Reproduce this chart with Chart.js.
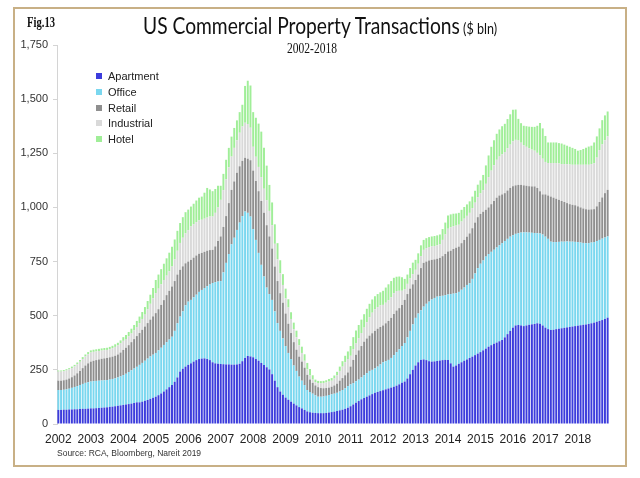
<!DOCTYPE html>
<html>
<head>
<meta charset="utf-8">
<script src="https://cdn.jsdelivr.net/npm/chart.js@4.4.1/dist/chart.umd.min.js"></script>
<style>
html,body{margin:0;padding:0;background:#fff;width:640px;height:478px;overflow:hidden;}
#wrap{position:relative;width:640px;height:478px;}
#frame{position:absolute;left:13px;top:7px;width:610px;height:456px;border:2px solid #c8b086;}
canvas{position:absolute;left:0;top:0;}
.txt{position:absolute;white-space:nowrap;line-height:1;transform-origin:left top;}
#fig{left:27px;top:16px;font-family:"Liberation Serif",serif;font-size:14px;font-weight:bold;color:#111;}
#title{left:143px;top:14px;font-family:Lato,"Open Sans",sans-serif;color:#111;}
#title .t1{font-size:23px;}
#title .t2{font-size:15px;}
#sub{top:42px;font-family:"Liberation Serif",serif;font-size:14px;color:#111;}
#source{left:57px;top:449px;font-family:"Liberation Sans",Arial,sans-serif;font-size:8.5px;color:#333;}
#legend{position:absolute;left:96px;top:69px;font-family:"Liberation Sans",Arial,sans-serif;font-size:11px;color:#222;}
#legend .row{height:15.75px;line-height:15.75px;white-space:nowrap;}
#legend .sw{display:inline-block;width:6px;height:6px;margin-right:6px;vertical-align:middle;position:relative;top:-1px;}
</style>
</head>
<body>
<div id="wrap">
  <div id="frame"></div>
  <canvas id="c" width="640" height="478"></canvas>
  <div id="fig" class="txt">Fig.13</div>
  <div id="title" class="txt"><span class="t1">US Commercial Property Transactions</span><span class="t2"> ($ bln)</span></div>
  <div id="sub" class="txt">2002-2018</div>
  <div id="source" class="txt">Source: RCA, Bloomberg, Nareit 2019</div>
  <div id="legend"></div>
</div>
<script>
const years = ['2002','2003','2004','2005','2006','2007','2008','2009','2010','2011','2012','2013','2014','2015','2016','2017','2018'];

const apartment = [
  65,65,66,66,67,67,68,68,69,70,70,71,
  72,72,73,74,75,76,77,79,80,82,84,86,
  88,90,92,94,97,100,100,103,107,111,116,121,
  126,133,141,150,160,170,180,195,215,242,255,265,
  273,280,288,295,300,302,303,300,295,285,280,278,
  277,276,275,275,274,274,275,278,290,305,314,312,
  308,300,292,282,272,262,252,230,200,170,150,135,
  122,112,103,94,86,78,72,65,58,54,52,51,
  50,50,50,51,53,55,57,60,63,66,70,75,
  82,90,98,106,114,120,126,132,138,144,148,152,
  156,160,164,168,172,177,183,190,196,210,230,250,
  270,285,296,298,295,290,288,289,291,293,295,296,
  296,280,265,270,278,285,292,298,305,311,318,325,
  332,340,348,357,364,370,376,382,388,400,415,430,
  445,455,457,455,452,455,458,460,462,465,463,455,
  445,438,434,435,438,440,442,444,446,448,450,452,
  454,456,458,460,462,465,468,472,476,480,485,491
];

const office = [
  92,92,92,94,96,100,103,107,111,115,120,122,
  124,126,126,126,126,126,126,126,128,129,131,134,
  138,142,148,154,159,164,173,179,185,191,196,199,
  202,207,211,215,218,220,223,235,250,254,265,283,
  292,293,297,302,310,317,325,336,349,366,375,380,
  383,424,469,510,556,586,621,652,670,676,661,646,
  592,550,498,453,409,368,348,343,320,296,280,260,
  238,216,197,176,159,141,128,115,99,94,88,81,
  76,76,77,79,81,82,83,84,87,91,95,100,
  101,99,99,99,101,105,109,113,112,113,117,123,
  129,130,132,137,146,155,162,170,178,190,200,210,
  220,225,229,244,260,275,287,293,297,297,297,299,
  302,320,337,334,332,335,338,344,345,359,377,395,
  408,415,425,428,431,435,439,443,447,445,440,435,
  427,423,424,429,433,430,426,423,420,416,417,420,
  420,417,408,405,402,401,400,398,397,394,392,389,
  386,382,378,375,373,373,372,373,374,376,376,375
];

const retail = [
  43,43,44,45,47,49,53,59,65,73,80,87,
  92,94,96,98,100,101,102,103,103,104,106,110,
  116,120,124,130,136,142,147,153,158,164,170,177,
  184,190,198,207,217,225,232,230,225,216,208,194,
  185,185,183,181,176,171,167,164,159,153,165,187,
  206,210,216,235,251,260,264,260,255,248,250,260,
  270,272,285,295,295,288,266,237,207,194,174,165,
  150,135,120,108,98,92,88,80,70,58,50,46,
  44,40,38,36,34,35,38,42,50,55,60,63,
  82,107,123,135,145,155,160,163,169,173,175,173,
  170,175,180,185,190,192,190,190,199,200,195,185,
  175,180,195,202,195,190,183,178,175,177,183,190,
  198,200,206,210,209,215,220,223,230,234,235,235,
  230,225,216,215,220,225,230,230,225,221,223,225,
  226,224,223,220,217,215,214,214,215,209,195,185,
  195,200,208,205,200,194,188,183,177,173,170,169,
  165,162,159,157,155,153,152,160,175,190,205,215
];

const industrial = [
  42,42,42,42,42,42,42,42,43,42,42,42,
  42,41,40,39,38,38,37,37,39,41,42,43,
  42,41,41,40,40,42,46,50,55,64,73,83,
  92,95,95,93,90,90,92,100,110,124,132,138,
  145,154,154,154,154,153,153,153,155,154,155,155,
  169,170,170,165,154,155,150,155,159,162,160,150,
  110,112,112,110,110,115,118,108,105,100,92,82,
  70,75,65,60,58,52,40,32,25,18,15,15,
  19,22,24,26,28,28,32,39,45,53,60,62,
  50,50,52,55,60,65,75,85,95,100,100,100,
  95,95,95,95,95,90,80,65,50,47,47,47,
  47,50,55,60,62,62,62,62,62,62,75,90,
  105,108,105,102,101,100,98,96,95,93,92,92,
  95,100,120,140,155,165,175,180,185,190,195,200,
  207,210,205,195,185,180,175,170,165,162,165,165,
  150,150,155,160,165,168,170,175,180,183,185,187,
  192,197,202,205,207,209,212,225,240,245,244,247
];

const hotel = [
  5,5,5,6,6,7,7,8,8,9,9,10,
  10,10,10,10,10,10,10,11,11,12,12,13,
  17,18,20,22,25,28,30,32,35,38,42,48,
  61,65,70,75,80,86,92,92,92,92,95,98,
  95,92,95,100,105,107,120,137,125,117,110,100,
  65,75,90,90,92,92,92,95,100,170,200,195,
  160,180,200,210,190,160,120,105,90,75,60,50,
  45,38,31,30,30,29,29,30,30,30,20,12,
  10,10,10,10,12,12,14,16,20,25,30,35,
  45,55,60,62,62,62,62,62,61,60,60,60,
  65,70,74,75,72,66,66,63,47,43,48,53,
  46,48,50,46,46,46,46,46,46,46,50,55,
  62,60,58,56,55,54,54,53,53,53,55,58,
  60,70,85,100,110,115,120,125,130,130,135,140,
  146,140,100,90,90,95,100,105,110,125,150,140,
  120,95,95,95,95,94,95,90,85,82,78,73,
  65,68,73,78,84,85,96,98,100,112,115,115
];

const yTicks = [0,250,500,750,1000,1250,1500,1750];

const months = [];
years.forEach(y => { for (let m = 1; m <= 12; m++) months.push(y + '-' + String(m).padStart(2,'0')); });

const series = [
  {name:'Apartment',  data:apartment,  color:'#3c3cdc'},
  {name:'Office',     data:office,     color:'#7ad7ef'},
  {name:'Retail',     data:retail,     color:'#8f8f8f'},
  {name:'Industrial', data:industrial, color:'#d9d9d9'},
  {name:'Hotel',      data:hotel,      color:'#a0ee98'}
];

const chart = new Chart(document.getElementById('c').getContext('2d'), {
  type:'bar',
  data:{
    labels:months,
    datasets:series.map(s => ({
      label:s.name, data:s.data, backgroundColor:s.color,
      borderWidth:0, barPercentage:0.72, categoryPercentage:1.0
    }))
  },
  options:{
    responsive:false,
    animation:false,
    layout:{padding:{left:17,right:31,top:45,bottom:24}},
    plugins:{legend:{display:false},tooltip:{enabled:false}},
    scales:{
      x:{
        stacked:true,
        grid:{display:false,drawTicks:false},
        border:{display:false},
        ticks:{
          autoSkip:false,maxRotation:0,minRotation:0,padding:8,color:'#222',
          font:{family:'"Liberation Sans", Arial, sans-serif',size:12},
          callback:(v,i) => (i % 12 === 0 ? years[i/12] : '')
        },
        afterFit:s => { s.height = 30; }
      },
      y:{
        stacked:true,min:0,max:1750,
        afterBuildTicks:s => { s.ticks = yTicks.map(v => ({value:v})); },
        ticks:{
          padding:5,color:'#333',
          font:{family:'"Liberation Sans", Arial, sans-serif',size:11},
          callback:v => Number(v).toLocaleString('en-US')
        },
        grid:{display:true,drawOnChartArea:false,drawTicks:true,tickLength:4,color:'#d4d4d4'},
        border:{display:true,color:'#d4d4d4',width:1},
        afterFit:s => { s.width = 40; }
      }
    }
  }
});

// legend built from datasets
const lg = document.getElementById('legend');
chart.data.datasets.forEach(ds => {
  const r = document.createElement('div'); r.className = 'row';
  const sw = document.createElement('span'); sw.className = 'sw'; sw.style.background = ds.backgroundColor;
  r.appendChild(sw); r.appendChild(document.createTextNode(ds.label));
  lg.appendChild(r);
});

// fit text widths to the reference
function fit(id, w, centerX) {
  const el = document.getElementById(id);
  const cw = el.getBoundingClientRect().width;
  const k = w / cw;
  if (centerX !== undefined) el.style.left = (centerX - w / 2) + 'px';
  el.style.transform = 'scaleX(' + k + ')';
}
fit('title', 354);
fit('sub', 50, 312);
fit('fig', 28);
</script>
</body>
</html>
